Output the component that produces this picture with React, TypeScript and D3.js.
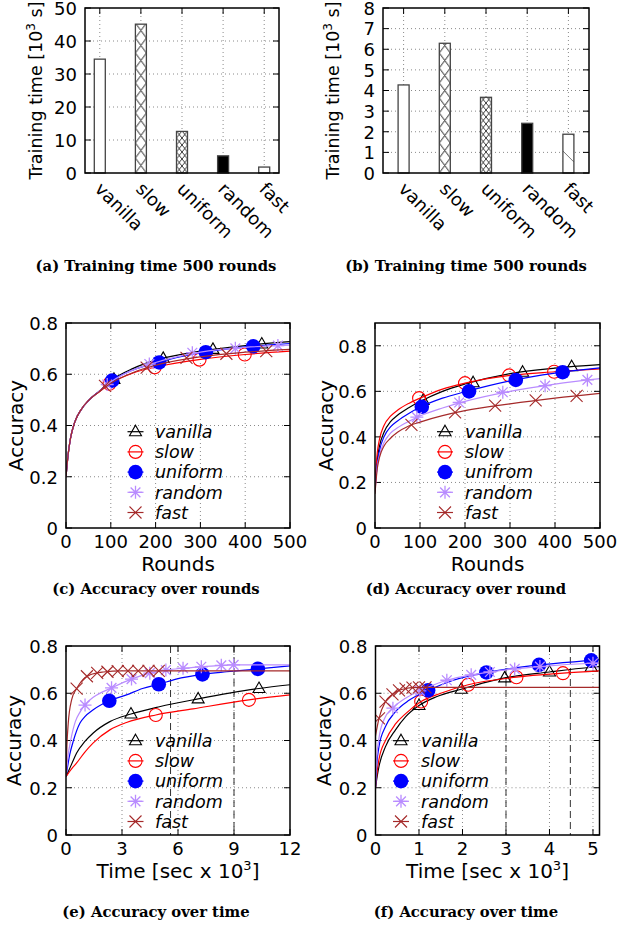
import React from "react";
import * as d3 from "d3";

// ---------- data ----------
const categories = ["vanilla", "slow", "uniform", "random", "fast"];
const timeA = [34.5, 45.1, 12.6, 5.2, 1.8];
const timeB = [4.27, 6.29, 3.67, 2.41, 1.88];
const yTicksA = [0, 10, 20, 30, 40, 50];
const yTicksB = [0, 1, 2, 3, 4, 5, 6, 7, 8];
const barFills = ["empty", "bigcross", "smallcross", "solid", "diag"];

const roundsGrid = [0, 5, 10, 20, 35, 50, 75, 100, 150, 200, 300, 400, 500];
const cVanilla = [0.2, 0.29, 0.35, 0.415, 0.465, 0.497, 0.535, 0.575, 0.623, 0.655, 0.69, 0.712, 0.727];
const cSlow = [0.2, 0.29, 0.35, 0.415, 0.465, 0.497, 0.533, 0.565, 0.605, 0.628, 0.658, 0.677, 0.69];
const cUniform = [0.2, 0.29, 0.35, 0.415, 0.465, 0.497, 0.535, 0.572, 0.617, 0.644, 0.684, 0.707, 0.72];
const cRandom = [0.2, 0.29, 0.35, 0.415, 0.465, 0.497, 0.535, 0.57, 0.617, 0.646, 0.686, 0.705, 0.714];
const cFast = [0.2, 0.29, 0.35, 0.415, 0.465, 0.497, 0.533, 0.565, 0.607, 0.635, 0.668, 0.686, 0.697];
const cVanillaMarks = [[107, 0.58], [217, 0.662], [328, 0.697], [437, 0.718]];
const cSlowMarks = [[97, 0.563], [198, 0.627], [298, 0.657], [399, 0.677]];
const cUniformMarks = [[103, 0.575], [208, 0.646], [312, 0.686], [418, 0.709]];
const cRandomMarks = [[92, 0.56], [186, 0.64], [282, 0.684], [378, 0.701], [473, 0.712]];
const cFastMarks = [[87, 0.555], [180, 0.626], [269, 0.664], [358, 0.68], [447, 0.69]];

const dVanilla = [0.18, 0.3, 0.36, 0.42, 0.468, 0.495, 0.528, 0.555, 0.6, 0.632, 0.678, 0.702, 0.717];
const dSlow = [0.2, 0.33, 0.39, 0.45, 0.492, 0.517, 0.547, 0.57, 0.61, 0.636, 0.67, 0.686, 0.699];
const dUniform = [0.17, 0.28, 0.34, 0.4, 0.445, 0.47, 0.503, 0.53, 0.57, 0.598, 0.646, 0.68, 0.703];
const dRandom = [0.16, 0.27, 0.32, 0.375, 0.418, 0.44, 0.468, 0.492, 0.527, 0.556, 0.6, 0.632, 0.656];
const dFast = [0.15, 0.26, 0.31, 0.36, 0.395, 0.42, 0.448, 0.465, 0.493, 0.515, 0.545, 0.57, 0.591];
const dVanillaMarks = [[107, 0.56], [218, 0.638], [328, 0.684], [437, 0.708]];
const dSlowMarks = [[98, 0.57], [200, 0.636], [298, 0.67], [398, 0.686]];
const dUniformMarks = [[104, 0.532], [209, 0.6], [313, 0.65], [417, 0.684]];
const dRandomMarks = [[93, 0.487], [187, 0.551], [284, 0.596], [378, 0.625], [472, 0.65]];
const dFastMarks = [[81, 0.453], [178, 0.508], [267, 0.537], [357, 0.56], [448, 0.58]];

const eVanillaT = [0, 0.3, 0.57, 1.0, 1.46, 2.35, 3.48, 5.0, 7.08, 10.34, 12];
const eVanillaV = [0.247, 0.3, 0.347, 0.395, 0.432, 0.48, 0.512, 0.543, 0.576, 0.62, 0.636];
const eSlowT = [0, 0.3, 0.57, 1.0, 1.46, 2.35, 3.24, 4.81, 6.8, 9.8, 12];
const eSlowV = [0.247, 0.28, 0.305, 0.35, 0.39, 0.445, 0.476, 0.508, 0.534, 0.572, 0.593];
const eUniformT = [0, 0.2, 0.4, 0.75, 1.0, 1.46, 2.32, 3.24, 4.1, 4.97, 5.9, 7.31, 8.6, 10.28, 12];
const eUniformV = [0.247, 0.34, 0.4, 0.474, 0.5, 0.53, 0.568, 0.593, 0.62, 0.638, 0.66, 0.68, 0.691, 0.703, 0.716];
const eRandomT = [0, 0.1, 0.25, 0.5, 0.75, 1.0, 1.5, 2.45, 3.5, 4.5, 5.35, 6.3, 7.25, 8.3, 9, 12];
const eRandomV = [0.247, 0.33, 0.4, 0.48, 0.52, 0.55, 0.585, 0.623, 0.66, 0.685, 0.698, 0.706, 0.712, 0.718, 0.72, 0.72];
const eFastT = [0, 0.05, 0.12, 0.3, 0.57, 0.93, 1.3, 2, 3, 12];
const eFastV = [0.247, 0.38, 0.473, 0.572, 0.62, 0.66, 0.678, 0.69, 0.695, 0.695];
const eVanillaMarks = [[3.48, 0.512], [7.08, 0.576], [10.34, 0.62]];
const eSlowMarks = [[4.81, 0.508], [9.8, 0.572]];
const eUniformMarks = [[2.32, 0.568], [4.97, 0.638], [7.31, 0.68], [10.28, 0.703]];
const eRandomMarks = [[1.02, 0.55], [2.44, 0.623], [3.51, 0.66], [4.49, 0.685], [5.35, 0.698], [6.27, 0.706], [7.25, 0.712], [8.32, 0.718], [8.98, 0.72]];
const eFastMarks = [[0.57, 0.62], [1.12, 0.672], [1.67, 0.686], [2.22, 0.691], [2.77, 0.694], [3.32, 0.695], [3.87, 0.695], [4.42, 0.695], [4.97, 0.695]];

const fVanillaT = [0, 0.04, 0.08, 0.23, 0.46, 0.69, 1.0, 1.4, 1.97, 2.97, 4.0, 4.96, 5.15];
const fVanillaV = [0.2, 0.25, 0.29, 0.374, 0.445, 0.5, 0.548, 0.585, 0.617, 0.665, 0.69, 0.71, 0.713];
const fSlowT = [0, 0.04, 0.08, 0.23, 0.46, 0.7, 1.05, 1.5, 2.13, 3.24, 4.31, 5.15];
const fSlowV = [0.2, 0.27, 0.32, 0.4, 0.47, 0.515, 0.565, 0.6, 0.636, 0.668, 0.685, 0.695];
const fUniformT = [0, 0.03, 0.08, 0.23, 0.46, 0.77, 1.21, 1.79, 2.55, 3.76, 4.96, 5.15];
const fUniformV = [0.2, 0.3, 0.374, 0.459, 0.522, 0.57, 0.612, 0.655, 0.688, 0.72, 0.739, 0.742];
const fRandomT = [0, 0.03, 0.08, 0.2, 0.4, 0.7, 1.02, 1.64, 2.2, 2.63, 3.2, 3.78, 5.0, 5.15];
const fRandomV = [0.2, 0.33, 0.41, 0.49, 0.537, 0.58, 0.61, 0.655, 0.678, 0.69, 0.703, 0.713, 0.727, 0.728];
const fFastT = [0, 0.08, 0.23, 0.39, 0.54, 0.7, 0.85, 1.0, 5.15];
const fFastV = [0.42, 0.494, 0.565, 0.595, 0.612, 0.62, 0.624, 0.625, 0.625];
const fVanillaMarks = [[1.0, 0.548], [1.97, 0.617], [2.97, 0.665], [4.0, 0.69], [4.96, 0.71]];
const fSlowMarks = [[1.05, 0.565], [2.13, 0.636], [3.24, 0.668], [4.31, 0.685]];
const fUniformMarks = [[1.21, 0.612], [2.55, 0.688], [3.76, 0.72], [4.96, 0.739]];
const fRandomMarks = [[0.4, 0.537], [1.02, 0.61], [1.64, 0.655], [2.2, 0.678], [2.63, 0.69], [3.2, 0.703], [3.78, 0.713], [5.0, 0.727]];
const fFastMarks = [[0.08, 0.494], [0.23, 0.565], [0.39, 0.595], [0.54, 0.612], [0.69, 0.62], [0.85, 0.624], [1.0, 0.625], [1.15, 0.625]];

const accTicks = [0, 0.2, 0.4, 0.6, 0.8];
const roundTicks = [0, 100, 200, 300, 400, 500];
const timeTicksE = [0, 3, 6, 9, 12];
const timeTicksF = [0, 1, 2, 3, 4, 5];
const markLinesE = [5.6, 9.0];
const markLinesF = [3.0, 4.48];
const legendNames = ["vanilla", "slow", "uniform", "random", "fast"];
const legendNamesD = ["vanilla", "slow", "unifrom", "random", "fast"];

const seriesKeys = ["vanilla", "slow", "uniform", "random", "fast"];
const seriesColor: Record<string, string> = {
  vanilla: "#000000",
  slow: "#ff0000",
  uniform: "#0000ff",
  random: "#b98cff",
  fast: "#a52a2a",
};
const seriesMarker: Record<string, string> = {
  vanilla: "tri",
  slow: "circ",
  uniform: "disc",
  random: "star",
  fast: "cross",
};

const FONT = "DejaVu Sans";
const TICK_FS = 18;
const LABEL_FS = 20;
const LEG_FS = 17.5;

// ---------- helpers ----------
function zip(xs: number[], ys: number[]) {
  return xs.map((x, i) => [x, ys[i]]);
}

function Marker({ type, x, y, color }: { type: string; x: number; y: number; color: string }) {
  if (type === "tri") {
    return (
      <path
        d={`M${x},${y - 6.5} L${x + 6},${y + 4} L${x - 6},${y + 4} Z`}
        fill="none"
        stroke={color}
        strokeWidth={1.1}
      />
    );
  }
  if (type === "circ") return <circle cx={x} cy={y} r={6.5} fill="none" stroke={color} strokeWidth={1.1} />;
  if (type === "disc") return <circle cx={x} cy={y} r={7.3} fill={color} />;
  if (type === "star") {
    const s = 6.5;
    const d = s * 0.75;
    return (
      <path
        d={`M${x - s},${y} L${x + s},${y} M${x},${y - s} L${x},${y + s} M${x - d},${y - d} L${x + d},${y + d} M${x - d},${y + d} L${x + d},${y - d}`}
        stroke={color}
        strokeWidth={1.3}
      />
    );
  }
  const s = 6;
  return (
    <path
      d={`M${x - s},${y - s} L${x + s},${y + s} M${x - s},${y + s} L${x + s},${y - s}`}
      stroke={color}
      strokeWidth={1.1}
    />
  );
}

type Scale = d3.ScaleLinear<number, number>;

function Frame({
  x, y, xTicks, yTicks, xFmt, yFmt, showXLabels = true, xGrid = true,
}: {
  x: Scale; y: Scale; xTicks: number[]; yTicks: number[];
  xFmt: (v: number) => string; yFmt: (v: number) => string;
  showXLabels?: boolean; xGrid?: boolean;
}) {
  const [x0, x1] = x.range();
  const [y0, y1] = y.range(); // y0 bottom, y1 top
  const tl = 6;
  return (
    <g>
      {yTicks
        .filter((t) => Math.abs(y(t) - y0) > 1 && Math.abs(y(t) - y1) > 1)
        .map((t) => (
          <line key={"gy" + t} x1={x0} x2={x1} y1={y(t)} y2={y(t)} stroke="#8a8a8a" strokeWidth={1} strokeDasharray="1,3" />
        ))}
      {xGrid &&
        xTicks
          .filter((t) => Math.abs(x(t) - x0) > 1 && Math.abs(x(t) - x1) > 1)
          .map((t) => (
            <line key={"gx" + t} x1={x(t)} x2={x(t)} y1={y0} y2={y1} stroke="#8a8a8a" strokeWidth={1} strokeDasharray="1,3" />
          ))}
      {yTicks.map((t) => (
        <g key={"ty" + t}>
          <line x1={x0} x2={x0 + tl} y1={y(t)} y2={y(t)} stroke="#000" />
          <line x1={x1} x2={x1 - tl} y1={y(t)} y2={y(t)} stroke="#000" />
          <text x={x0 - 8} y={y(t)} dy="0.38em" textAnchor="end" fontSize={TICK_FS} fontFamily={FONT}>
            {yFmt(t)}
          </text>
        </g>
      ))}
      {xTicks.map((t) => (
        <g key={"tx" + t}>
          <line x1={x(t)} x2={x(t)} y1={y0} y2={y0 - tl} stroke="#000" />
          <line x1={x(t)} x2={x(t)} y1={y1} y2={y1 + tl} stroke="#000" />
          {showXLabels && (
            <text x={x(t)} y={y0 + 19.5} textAnchor="middle" fontSize={TICK_FS} fontFamily={FONT}>
              {xFmt(t)}
            </text>
          )}
        </g>
      ))}
    </g>
  );
}

function BarPanel({
  id, values, yTicks, xDomain, xRange, yDomain, yRange, labelX,
}: {
  id: string; values: number[]; yTicks: number[]; xDomain: number[]; xRange: number[];
  yDomain: number[]; yRange: number[]; labelX: number;
}) {
  const x = d3.scaleLinear().domain(xDomain).range(xRange);
  const y = d3.scaleLinear().domain(yDomain).range(yRange);
  const bw = 11;
  const idx = categories.map((_, i) => i);
  const [x0, x1] = x.range();
  const [yb, yt] = y.range();
  return (
    <g>
      <defs>
        {values.map((v, i) => {
          const bx = x(i) - bw / 2;
          const kind = barFills[i];
          if (kind === "bigcross")
            return (
              <pattern key={i} id={`${id}-p${i}`} patternUnits="userSpaceOnUse" x={bx} y={yb} width={bw} height={15}>
                <rect width={bw} height={15} fill="#fff" />
                <path d={`M0,0 L${bw},15 M${bw},0 L0,15`} stroke="#222" strokeWidth={1} />
              </pattern>
            );
          if (kind === "smallcross")
            return (
              <pattern key={i} id={`${id}-p${i}`} patternUnits="userSpaceOnUse" x={bx} y={yb} width={bw / 2} height={7}>
                <rect width={bw / 2} height={7} fill="#fff" />
                <path d={`M0,0 L${bw / 2},7 M${bw / 2},0 L0,7`} stroke="#222" strokeWidth={0.9} />
              </pattern>
            );
          if (kind === "diag")
            return (
              <pattern key={i} id={`${id}-p${i}`} patternUnits="userSpaceOnUse" x={bx} y={yb} width={bw} height={26}>
                <rect width={bw} height={26} fill="#fff" />
                <path d={`M0,4 L${bw},${4 + bw}`} stroke="#666" strokeWidth={0.9} />
              </pattern>
            );
          return null;
        })}
      </defs>
      <Frame x={x} y={y} xTicks={idx} yTicks={yTicks} xFmt={() => ""} yFmt={(t) => String(t)} showXLabels={false} />
      {values.map((v, i) => {
        const kind = barFills[i];
        const fill = kind === "empty" ? "#fff" : kind === "solid" ? "#000" : `url(#${id}-p${i})`;
        return (
          <rect
            key={i}
            x={x(i) - bw / 2}
            y={y(v)}
            width={bw}
            height={y(0) - y(v)}
            fill={fill}
            stroke="#444"
            strokeWidth={1.3}
          />
        );
      })}
      {categories.map((c, i) => (
        <text
          key={c}
          transform={`translate(${x(i) - 6},${yb + 17}) rotate(45)`}
          fontSize={TICK_FS}
          fontFamily={FONT}
        >
          {c}
        </text>
      ))}
      <rect x={x0} y={yt} width={x1 - x0} height={yb - yt} fill="none" stroke="#000" strokeWidth={1.5} />
      <text
        transform={`translate(${labelX},${(yb + yt) / 2}) rotate(-90)`}
        textAnchor="middle"
        fontSize={17.5}
        fontFamily={FONT}
      >
        Training time [10<tspan dy={-7} fontSize={12}>3</tspan>
        <tspan dy={7}> s]</tspan>
      </text>
    </g>
  );
}

type Series = { key: string; line: number[][]; marks: number[][] };

function LinePanel({
  id, series, xDomain, xRange, yDomain, yRange, xTicks, xFmt, names, legX, legTextX, legY,
  labelX, xLabel, vlines = [],
}: {
  id: string; series: Series[]; xDomain: number[]; xRange: number[]; yDomain: number[]; yRange: number[];
  xTicks: number[]; xFmt: (v: number) => string; names: string[]; legX: number; legTextX: number; legY: number;
  labelX: number; xLabel: React.ReactNode; vlines?: number[];
}) {
  const x = d3.scaleLinear().domain(xDomain).range(xRange);
  const y = d3.scaleLinear().domain(yDomain).range(yRange);
  const [x0, x1] = x.range();
  const [yb, yt] = y.range();
  const line = d3
    .line<number[]>()
    .x((d) => x(d[0]))
    .y((d) => y(d[1]))
    .curve(d3.curveMonotoneX);
  return (
    <g>
      <defs>
        <clipPath id={`${id}-clip`}>
          <rect x={x0} y={yt} width={x1 - x0} height={yb - yt} />
        </clipPath>
      </defs>
      <Frame x={x} y={y} xTicks={xTicks} yTicks={accTicks} xFmt={xFmt} yFmt={(t) => (t === 0 ? "0" : t.toFixed(1))} />
      {vlines.map((v) => (
        <line key={v} x1={x(v)} x2={x(v)} y1={yt} y2={yb} stroke="#333" strokeWidth={1} strokeDasharray="7,4" />
      ))}
      <g clipPath={`url(#${id}-clip)`}>
        {series.map((s) => (
          <g key={s.key}>
            <path d={line(s.line) || ""} fill="none" stroke={seriesColor[s.key]} strokeWidth={1.2} />
            {s.marks.map((m, j) => (
              <Marker key={j} type={seriesMarker[s.key]} x={x(m[0])} y={y(m[1])} color={seriesColor[s.key]} />
            ))}
          </g>
        ))}
      </g>
      {seriesKeys.map((k, i) => {
        const ly = legY + i * 20.2;
        return (
          <g key={k}>
            <line x1={legX} x2={legX + 16} y1={ly} y2={ly} stroke={seriesColor[k]} strokeWidth={1.2} />
            <Marker type={seriesMarker[k]} x={legX + 8} y={ly} color={seriesColor[k]} />
            <text x={legTextX} y={ly} dy="0.36em" fontSize={LEG_FS} fontFamily={FONT} fontStyle="italic">
              {names[i]}
            </text>
          </g>
        );
      })}
      <rect x={x0} y={yt} width={x1 - x0} height={yb - yt} fill="none" stroke="#000" strokeWidth={1.5} />
      <text
        transform={`translate(${labelX},${(yb + yt) / 2}) rotate(-90)`}
        textAnchor="middle"
        fontSize={LABEL_FS}
        fontFamily={FONT}
      >
        Accuracy
      </text>
      <text x={(x0 + x1) / 2} y={yb + 43} textAnchor="middle" fontSize={LABEL_FS} fontFamily={FONT}>
        {xLabel}
      </text>
    </g>
  );
}

function Caption({ x, y, text }: { x: number; y: number; text: string }) {
  return (
    <text x={x} y={y} textAnchor="middle" fontSize={14.8} fontWeight="bold" fontFamily="DejaVu Serif">
      {text}
    </text>
  );
}

export default function App() {
  const timeLabel = (
    <>
      Time [sec x 10<tspan dy={-8} fontSize={13}>3</tspan>
      <tspan dy={8}>]</tspan>
    </>
  );
  const cSeries: Series[] = [
    { key: "vanilla", line: zip(roundsGrid, cVanilla), marks: cVanillaMarks },
    { key: "slow", line: zip(roundsGrid, cSlow), marks: cSlowMarks },
    { key: "uniform", line: zip(roundsGrid, cUniform), marks: cUniformMarks },
    { key: "random", line: zip(roundsGrid, cRandom), marks: cRandomMarks },
    { key: "fast", line: zip(roundsGrid, cFast), marks: cFastMarks },
  ];
  const dSeries: Series[] = [
    { key: "vanilla", line: zip(roundsGrid, dVanilla), marks: dVanillaMarks },
    { key: "slow", line: zip(roundsGrid, dSlow), marks: dSlowMarks },
    { key: "uniform", line: zip(roundsGrid, dUniform), marks: dUniformMarks },
    { key: "random", line: zip(roundsGrid, dRandom), marks: dRandomMarks },
    { key: "fast", line: zip(roundsGrid, dFast), marks: dFastMarks },
  ];
  const eSeries: Series[] = [
    { key: "vanilla", line: zip(eVanillaT, eVanillaV), marks: eVanillaMarks },
    { key: "slow", line: zip(eSlowT, eSlowV), marks: eSlowMarks },
    { key: "uniform", line: zip(eUniformT, eUniformV), marks: eUniformMarks },
    { key: "random", line: zip(eRandomT, eRandomV), marks: eRandomMarks },
    { key: "fast", line: zip(eFastT, eFastV), marks: eFastMarks },
  ];
  const fSeries: Series[] = [
    { key: "vanilla", line: zip(fVanillaT, fVanillaV), marks: fVanillaMarks },
    { key: "slow", line: zip(fSlowT, fSlowV), marks: fSlowMarks },
    { key: "uniform", line: zip(fUniformT, fUniformV), marks: fUniformMarks },
    { key: "random", line: zip(fRandomT, fRandomV), marks: fRandomMarks },
    { key: "fast", line: zip(fFastT, fFastV), marks: fFastMarks },
  ];
  return (
    <svg width={620} height={926} style={{ position: "absolute", left: 0, top: 0, background: "#fff" }}>
      <rect width={620} height={926} fill="#fff" />
      <BarPanel id="a" values={timeA} yTicks={yTicksA} xDomain={[-0.36, 4.36]} xRange={[85, 279]} yDomain={[0, 50]} yRange={[173, 8]} labelX={42} />
      <BarPanel id="b" values={timeB} yTicks={yTicksB} xDomain={[-0.5, 4.5]} xRange={[383, 589]} yDomain={[0, 8]} yRange={[173, 8]} labelX={339} />
      <Caption x={156} y={271} text="(a) Training time 500 rounds" />
      <Caption x={466} y={271} text="(b) Training time 500 rounds" />

      <LinePanel id="c" series={cSeries} xDomain={[0, 500]} xRange={[66, 290]} yDomain={[0, 0.8]} yRange={[528, 323]}
        xTicks={roundTicks} xFmt={(v) => String(v)} names={legendNames} legX={127.5} legTextX={155} legY={431.7}
        labelX={23} xLabel="Rounds" />
      <LinePanel id="d" series={dSeries} xDomain={[0, 500]} xRange={[375, 600]} yDomain={[0, 0.9]} yRange={[528, 323]}
        xTicks={roundTicks} xFmt={(v) => String(v)} names={legendNamesD} legX={437} legTextX={465} legY={431.7}
        labelX={333} xLabel="Rounds" />
      <Caption x={156} y={594} text="(c) Accuracy over rounds" />
      <Caption x={466} y={594} text="(d) Accuracy over round" />

      <LinePanel id="e" series={eSeries} xDomain={[0, 12]} xRange={[66, 290]} yDomain={[0, 0.8]} yRange={[835, 646]}
        xTicks={timeTicksE} xFmt={(v) => String(v)} names={legendNames} legX={127.5} legTextX={155} legY={740.7}
        labelX={21} xLabel={timeLabel} vlines={markLinesE} />
      <LinePanel id="f" series={fSeries} xDomain={[0, 5.15]} xRange={[375.5, 599.5]} yDomain={[0, 0.8]} yRange={[835, 646]}
        xTicks={timeTicksF} xFmt={(v) => String(v)} names={legendNames} legX={393} legTextX={421} legY={740.7}
        labelX={331} xLabel={timeLabel} vlines={markLinesF} />
      <Caption x={156} y={917} text="(e) Accuracy over time" />
      <Caption x={466} y={917} text="(f) Accuracy over time" />
    </svg>
  );
}
